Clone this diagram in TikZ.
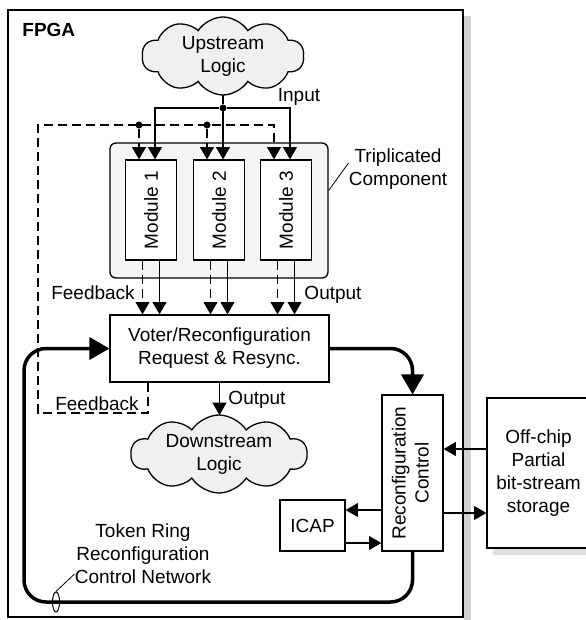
\documentclass[tikz,border=0pt]{standalone}
\usepackage{graphicx}
\usepackage{fontspec}
\setmainfont{Liberation Sans}
\usetikzlibrary{arrows,shapes.symbols,shapes.geometric}

\begin{document}
\begin{tikzpicture}[x = 0.5pt, y = -0.5pt, every node/.style = {font = \fontsize{9.5}{11.5}\selectfont,
	align = center, inner sep = 0pt},
	box/.style = {draw, line width = 0.65pt, fill = white},
	blob/.style = {cloud, cloud puffs = 10, cloud puff arc = 115, cloud ignores aspect, draw,
		line width = 0.65pt, fill = gray!12, outer sep = 0pt},
	dot/.style = {circle, fill = black, minimum size = 3.5pt},
	wire/.style = {line width = 0.65pt},
	fback/.style = {wire, dash pattern = on 4.5pt off 2.5pt},
	ring/.style = {line width = 1.75pt, rounded corners = 11pt}]

	\useasboundingbox (0, 0) rectangle (585, 620);

	% shadows
	\fill[gray!35] (464,  16) rectangle (471, 620);
	\fill[gray!25] (493, 548) rectangle (592, 555);

		\node (fpga)    at (235.5, 313.5) [box, minimum width = 227.5pt, minimum height = 303.5pt] {};
		\node (fpgalbl) at ( 22,    30)   [anchor = west, font = \fontsize{9.5}{11.5}\selectfont\bfseries] {FPGA};
		\node (up)      at (223,    56)   [blob, minimum width = 81pt, minimum height = 39pt] {};
		\node (uptxt)   at (up) {Upstream\\Logic};
		\node (tmr)     at (219,   210.5) [draw, line width = 0.65pt, rounded corners = 3pt, fill = gray!8,
			minimum width = 109pt, minimum height = 67.5pt] {};
		\foreach \m/\x in {1/151, 2/219, 3/286}
			\node (m\m) at (\x, 210) [box, minimum width = 25.5pt, minimum height = 50pt] {\rotatebox{90}{Module \m}};
		\node (voter)   at (219.5, 348.5) [box, minimum width = 109.5pt, minimum height = 33.5pt] {Voter/Reconfiguration\\Request \& Resync.};
		\node (down)    at (219,   454)   [blob, minimum width = 88pt, minimum height = 39pt] {};
		\node (downtxt) at (down) {Downstream\\Logic};
		\node (rc)      at (412.5, 473)   [box, minimum width = 30.5pt, minimum height = 78pt]
			{\rotatebox{90}{\begin{tabular}{@{}c@{}}Reconfiguration\\Control\end{tabular}}};
		\node (icap)    at (312.5, 525.5) [box, minimum width = 32.5pt, minimum height = 25.5pt] {ICAP};
		\node (store)   at (538.5, 473)   [box, minimum width = 51.5pt, minimum height = 75pt] {Off-chip\\Partial\\bit-stream\\storage};

		% labels
		\node (inlbl)   at (299,  97) {Input};
		\node (triplbl) at (398, 169) {Triplicated\\Component};
		\node (fblbl)   at ( 93, 293) {Feedback};
		\node (outlbl)  at (333, 295) {Output};
		\node (outlbl2) at (257, 400) {Output};
		\node (fblbl2)  at ( 97, 404) {Feedback};
		\node (ringlbl) at (143, 554) {Token Ring\\Reconfiguration\\Control Network};

		% junctions and corners
		\node (jin) at (223, 108) [dot] {};
		\node (j1)  at (139, 125) [dot] {};
		\node (j2)  at (207, 125) [dot] {};
		\coordinate (fb1) at ( 38, 413);
		\coordinate (fb2) at ( 38, 125);
		\coordinate (rbl) at ( 24, 602);

		% input fan-out
		\draw[wire] (up.south) -- (jin);
		\foreach \m in {1, 2, 3}
			\draw[wire, -triangle 60] (jin) -| ([xshift = 2pt]m\m.north);

		% feedback loop
		\draw[fback, -triangle 60] ([xshift = -35.75pt]voter.south) |- (fb1) -- (fb2) -| ([xshift = -6pt]m3.north);
		\foreach \m in {1, 2}
			\draw[fback, -triangle 60] (j\m) -- ([xshift = -6pt]m\m.north);

		% module outputs
		\foreach \m in {1, 2, 3} {
			\draw[fback, -triangle 60] ([xshift = -4.25pt]m\m.south) -- ([xshift = -4.25pt]m\m.south |- voter.north);
			\draw[wire, -triangle 60]  ([xshift = 4.25pt]m\m.south)  -- ([xshift = 4.25pt]m\m.south |- voter.north);
		}
		\draw[wire, -triangle 60] (voter.south) -- (voter.south |- down.north);

		% token ring
		\draw[ring, -triangle 60] (rc.south) |- (rbl) |- (voter.west);
		\draw[ring, -triangle 60] (voter.east) -| (rc.north);
		\node (tok) at (56, 602) [ellipse, draw, line width = 0.5pt, minimum width = 3.5pt, minimum height = 10pt] {};

		% side links
		\draw[wire, -triangle 60] ([yshift = -18.5pt]rc.west)  -- ([yshift = 7.75pt]icap.east);
		\draw[wire, -triangle 60] ([yshift = -8.75pt]icap.east) -- ([yshift = -35pt]rc.west);
		\draw[wire, -triangle 60] ([yshift = 12pt]store.west)   -- ([yshift = 12pt]rc.east);
		\draw[wire, -triangle 60] ([yshift = -20pt]rc.east)     -- ([yshift = -20pt]store.west);

		% leaders
		\draw[line width = 0.4pt] ([yshift = 10pt]tmr.east) -- ([yshift = 3pt]triplbl.west);
		\draw[line width = 0.4pt] (tok.north) -- ([yshift = -10pt]ringlbl.west);

\end{tikzpicture}
\end{document}
